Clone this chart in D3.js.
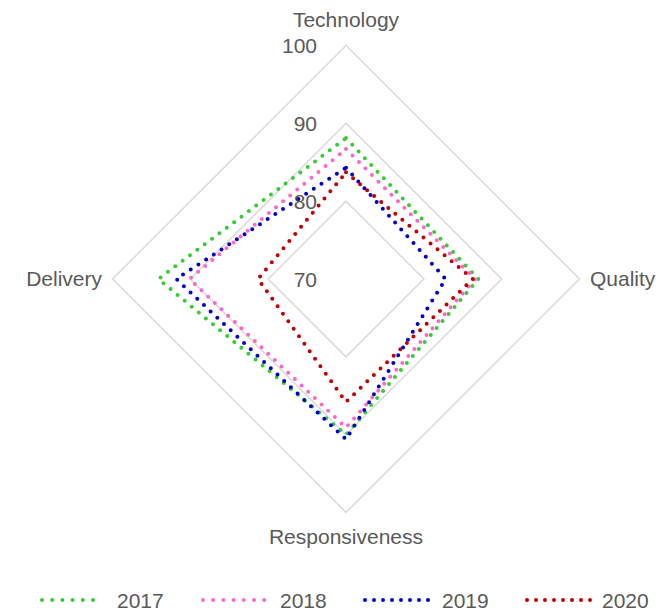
<!DOCTYPE html>
<html><head><meta charset="utf-8">
<script src="https://cdn.jsdelivr.net/npm/d3@7"></script>
<style>body{margin:0;background:#fff}svg{display:block}</style>
</head><body><svg id="c" width="670" height="611"></svg>
<script>
const categories = ["Technology", "Quality", "Responsiveness", "Delivery"];
const seriesNames = ["2017", "2018", "2019", "2020"];
const values2017 = [88.1, 87.0, 90.0, 94.1];
const values2018 = [86.7, 86.6, 89.1, 90.1];
const values2019 = [84.3, 82.8, 90.6, 91.8];
const values2020 = [83.7, 86.3, 85.8, 81.3];
const tickValues = [70, 80, 90, 100];
const colors = ["#33cc33", "#ff66cc", "#0000cc", "#c00000"];

const series = [values2017, values2018, values2019, values2020];
const svg = d3.select("#c");
const cx = 346, cy = 279;
const r = d3.scaleLinear().domain([70, 100]).range([0, 233.5]);
const ang = d3.scalePoint().domain(categories.concat(["_end"])).range([0, 2 * Math.PI]);
const font = "'Liberation Sans', Arial, sans-serif";
const g = svg.append("g").attr("transform", `translate(${cx},${cy})`);

const radial = d3.lineRadial().angle((d, i) => ang(categories[i])).radius(d => r(d)).curve(d3.curveLinearClosed);

// grid rings
g.selectAll("path.grid").data(tickValues.filter(t => t > 70)).join("path")
  .attr("class", "grid")
  .attr("d", t => radial(categories.map(() => t)))
  .attr("fill", "none").attr("stroke", "#d9d9d9").attr("stroke-width", 1.5);

// tick labels
g.selectAll("text.tick").data(tickValues).join("text")
  .attr("class", "tick")
  .attr("x", -29).attr("y", t => -r(t)).attr("dy", "0.36em")
  .attr("text-anchor", "end")
  .attr("font-family", font).attr("font-size", 21).attr("fill", "#595959")
  .text(t => t);

// series
g.selectAll("path.series").data(series).join("path")
  .attr("class", "series")
  .attr("d", d => radial(d))
  .attr("fill", "none")
  .attr("stroke", (d, i) => colors[i])
  .attr("stroke-width", 4)
  .attr("stroke-linecap", "round")
  .attr("stroke-dasharray", "0 9.2");

// category labels
const labelPos = {
  "Technology": {x: 0, y: -252, anchor: "middle"},
  "Quality": {x: 244, y: 7, anchor: "start"},
  "Responsiveness": {x: 0, y: 265, anchor: "middle"},
  "Delivery": {x: -244, y: 7, anchor: "end"}
};
g.selectAll("text.cat").data(categories).join("text")
  .attr("class", "cat")
  .attr("x", d => labelPos[d].x).attr("y", d => labelPos[d].y)
  .attr("text-anchor", d => labelPos[d].anchor)
  .attr("font-family", font).attr("font-size", 21).attr("fill", "#595959")
  .text(d => d);

// legend
const legendLayout = [
  {x0: 42, x1: 103, tx: 117},
  {x0: 203, x1: 266, tx: 280},
  {x0: 365, x1: 437, tx: 442},
  {x0: 527, x1: 598, tx: 602}
];
const lg = svg.append("g");
seriesNames.forEach((name, i) => {
  const L = legendLayout[i];
  lg.append("line").attr("x1", L.x0).attr("x2", L.x1).attr("y1", 600).attr("y2", 600)
    .attr("stroke", colors[i]).attr("stroke-width", 4).attr("stroke-linecap", "round")
    .attr("stroke-dasharray", i < 2 ? "0 10.2" : "0 9");
  lg.append("text").attr("x", L.tx).attr("y", 608)
    .attr("font-family", font).attr("font-size", 21).attr("fill", "#595959")
    .text(name);
});
</script></body></html>
